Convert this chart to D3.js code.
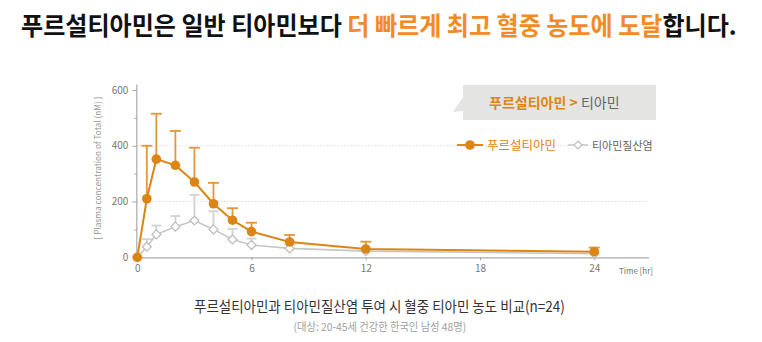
<!DOCTYPE html>
<html><head><meta charset="utf-8">
<script src="https://cdn.jsdelivr.net/npm/d3@7"></script>
<style>
body{margin:0;background:#fff;}
svg{display:block;}
text{font-family:"Noto Sans CJK KR","Noto Sans",sans-serif;}
</style></head>
<body>
<script>
const times = [0, 0.5, 1, 2, 3, 4, 5, 6, 8, 12, 24];
const fursMean = [0, 210, 352, 330, 270, 192, 133, 92, 55, 30, 20];
const fursUpper = [0, 400, 515, 453, 393, 267, 176, 124, 80, 56, 35];
const thiaMean = [0, 38, 82, 110, 132, 100, 64, 44, 32, 22, 13];
const thiaUpper = [0, 65, 114, 148, 224, 165, 102, 67, 45, 30, 20];
const xTicks = [0, 6, 12, 18, 24];
const yTicks = [0, 200, 400, 600];
const yMinorTicks = [100, 300, 500];
const gridValues = [200, 400];
const seriesNames = ["푸르설티아민", "티아민질산염"];

const W = 762, H = 342;
const ORANGE = "#dc8514", TITLE_OR = "#f48a24", GRAY = "#c6c6c6";
const svg = d3.select("body").append("svg").attr("width", W).attr("height", H);

const x = d3.scaleLinear().domain([0, 24]).range([137.3, 594.3]);
const y = d3.scaleLinear().domain([0, 600]).range([257.3, 90]);

// fit helper: scale text horizontally to width
function fit(sel, x0, target, anchor) {
  const w = sel.node().getComputedTextLength();
  const k = target / w;
  const y0 = +sel.attr("data-y");
  const tx = anchor === "middle" ? x0 - target / 2 : x0;
  sel.attr("x", 0).attr("y", 0).attr("transform", `translate(${tx},${y0}) scale(${k},1)`);
}

// title
const title = svg.append("text").attr("data-y", 35).attr("font-size", 25).attr("font-weight", 700).attr("fill", "#111");
title.append("tspan").text("푸르설티아민은 일반 티아민보다 ");
title.append("tspan").attr("fill", TITLE_OR).text("더 빠르게 최고 혈중 농도에 도달");
title.append("tspan").text("합니다.");
fit(title, 21, 716);

// grid
svg.append("g").selectAll("line").data(gridValues).join("line")
  .attr("x1", x(0)).attr("x2", 650).attr("y1", d => y(d)).attr("y2", d => y(d))
  .attr("stroke", "#cfcfcf").attr("stroke-width", 1).attr("stroke-dasharray", "1,2");

// axes
const yAxis = svg.append("g").attr("transform", `translate(${x(0)},0)`)
  .call(d3.axisLeft(y).tickValues(yTicks).tickSize(5).tickPadding(4));
yAxis.select(".domain").attr("d", `M-0.5,${y(0)}V${y(620)}`);
svg.append("g").attr("transform", `translate(${x(0)},0)`)
  .call(d3.axisLeft(y).tickValues(yMinorTicks).tickSize(3).tickFormat(""))
  .select(".domain").remove();
const xAxis = svg.append("g").attr("transform", `translate(0,${y(0)})`)
  .call(d3.axisBottom(x).tickValues(xTicks).tickSize(3).tickPadding(5));
xAxis.select(".domain").attr("d", `M${x(0)},0.5H649`);
svg.selectAll(".domain").attr("stroke", "#aaa").attr("stroke-width", 1.2);
svg.selectAll(".tick line").attr("stroke", "#aaa");
svg.selectAll(".tick text").attr("fill", "#777").attr("font-size", 10).attr("font-family", "Roboto, sans-serif");
xAxis.selectAll(".tick").filter(d => d === 0).select("line").remove();

svg.append("text").attr("x", 619).attr("y", 274).attr("font-size", 8).attr("fill", "#777")
  .attr("font-family", "Roboto, sans-serif").text("Time [hr]");

const ylab = svg.append("text").attr("font-size", 9).attr("fill", "#999")
  .attr("font-family", "Roboto, sans-serif").attr("text-anchor", "middle")
  .attr("transform", "translate(101,168) rotate(-90)")
  .text("[ Plasma concentration of Total (nM) ]");
{
  const w = ylab.node().getComputedTextLength();
  ylab.attr("transform", `translate(101,168) rotate(-90) scale(${143 / w},1)`);
}

// series drawing
function drawSeries(mean, upper, color, lineW, errColor, capW, marker) {
  const g = svg.append("g");
  const pts = times.map((t, i) => ({ t, m: mean[i], u: upper[i] }));
  g.selectAll("line.err").data(pts.filter(p => p.u > p.m)).join("line")
    .attr("x1", p => x(p.t)).attr("x2", p => x(p.t)).attr("y1", p => y(p.m)).attr("y2", p => y(p.u))
    .attr("stroke", errColor).attr("stroke-width", 1.8);
  g.selectAll("line.cap").data(pts.filter(p => p.u > p.m)).join("line")
    .attr("x1", p => x(p.t) - capW / 2).attr("x2", p => x(p.t) + capW / 2)
    .attr("y1", p => y(p.u)).attr("y2", p => y(p.u))
    .attr("stroke", errColor).attr("stroke-width", 1.8);
  g.append("path").datum(pts)
    .attr("d", d3.line().x(p => x(p.t)).y(p => y(p.m)))
    .attr("fill", "none").attr("stroke", color).attr("stroke-width", lineW);
  if (marker === "circle") {
    g.selectAll("circle").data(pts).join("circle")
      .attr("cx", p => x(p.t)).attr("cy", p => y(p.m)).attr("r", 4.8).attr("fill", color);
  } else {
    g.selectAll("path.d").data(pts).join("path")
      .attr("d", p => `M${x(p.t)},${y(p.m) - 4.5}l4.5,4.5l-4.5,4.5l-4.5,-4.5z`)
      .attr("fill", "#fff").attr("stroke", "#bbb").attr("stroke-width", 1.2);
  }
}
drawSeries(thiaMean, thiaUpper, GRAY, 1.6, "#d2d2d2", 10, "diamond");
drawSeries(fursMean, fursUpper, ORANGE, 2, "#e3963a", 11, "circle");

// callout box
const box = svg.append("g");
box.append("path")
  .attr("d", "M463,85H656V120H463V111L453,112L463,97Z")
  .attr("fill", "#e4e4e2");
const bt = box.append("text").attr("x", 489).attr("y", 108).attr("font-size", 14);
bt.append("tspan").attr("fill", "#de8512").attr("font-weight", 700).text("푸르설티아민 > ");
bt.append("tspan").attr("fill", "#666").text("티아민");

// legend
const lg = svg.append("g");
lg.append("line").attr("x1", 457).attr("x2", 483).attr("y1", 145).attr("y2", 145).attr("stroke", ORANGE).attr("stroke-width", 2);
lg.append("circle").attr("cx", 470).attr("cy", 145).attr("r", 4.8).attr("fill", ORANGE);
lg.append("text").attr("x", 487).attr("y", 150).attr("font-size", 12.5).attr("fill", "#de8512").text(seriesNames[0]);
lg.append("line").attr("x1", 568).attr("x2", 588).attr("y1", 145).attr("y2", 145).attr("stroke", GRAY).attr("stroke-width", 1.5);
lg.append("path").attr("d", "M578,141l4,4l-4,4l-4,-4z").attr("fill", "#fff").attr("stroke", "#bbb").attr("stroke-width", 1.1);
lg.append("text").attr("x", 592).attr("y", 149.5).attr("font-size", 11).attr("fill", "#666").text(seriesNames[1]);

// captions
const cap = svg.append("text").attr("data-y", 312).attr("font-size", 15).attr("fill", "#333")
  .text("푸르설티아민과 티아민질산염 투여 시 혈중 티아민 농도 비교(n=24)");
fit(cap, 194, 371);
const sub = svg.append("text").attr("data-y", 331).attr("font-size", 11).attr("fill", "#a0a0a0")
  .text("(대상: 20-45세 건강한 한국인 남성 48명)");
fit(sub, 293.5, 173);
</script>
</body></html>
